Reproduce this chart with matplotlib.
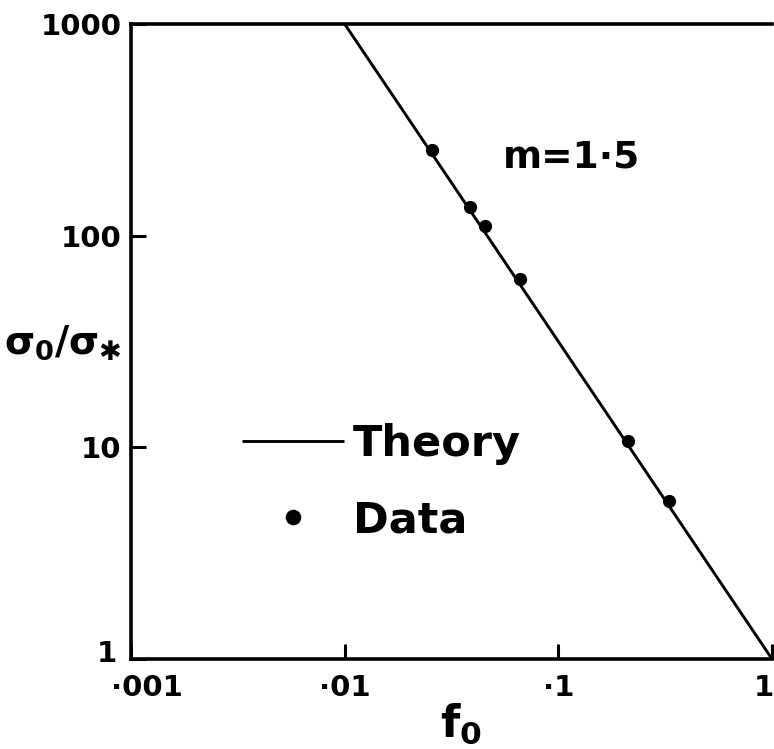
import matplotlib
matplotlib.use("Agg")
import matplotlib.pyplot as plt
from matplotlib.ticker import FixedLocator, FixedFormatter, NullLocator
from matplotlib.transforms import ScaledTranslation

plt.rcParams['font.family'] = ['DejaVu Sans']
plt.rcParams['font.weight'] = 'bold'
plt.rcParams['mathtext.fontset'] = 'custom'
plt.rcParams['mathtext.rm'] = 'DejaVu Sans:bold'
plt.rcParams['mathtext.it'] = 'DejaVu Sans:bold'
plt.rcParams['mathtext.bf'] = 'DejaVu Sans:bold'

# Theory: sigma0/sigma* = f0^(-m), m = 1.5
theory_f0 = [0.01, 1.0]
theory_ratio = [1000.0, 1.0]

# Measured points
data_f0 = [0.0256, 0.0385, 0.0453, 0.0661, 0.213, 0.330]
data_ratio = [254.0, 137.0, 111.0, 62.7, 10.7, 5.55]

x_ticks = [0.001, 0.01, 0.1, 1.0]
x_tick_labels = ['·001', '·01', '·1', '1']
y_ticks = [1, 10, 100, 1000]
y_tick_labels = ['1', '10', '100', '1000']

W, H = 774, 749
DPI = 100
fig = plt.figure(figsize=(W / DPI, H / DPI), dpi=DPI)
ax = fig.add_axes([131 / W, 1 - 659 / H, (772 - 131) / W, (659 - 24) / H])

ax.set_xscale('log')
ax.set_yscale('log')
ax.set_xlim(0.001, 1.0)
ax.set_ylim(1, 1000)

ax.plot(theory_f0, theory_ratio, color='black', lw=2.1, solid_capstyle='butt',
        label='Theory', clip_on=False, zorder=3)
ax.plot(data_f0, data_ratio, linestyle='none', marker='o', ms=8.5,
        color='black', label='Data', zorder=4)

ax.xaxis.set_major_locator(FixedLocator(x_ticks))
ax.xaxis.set_major_formatter(FixedFormatter(x_tick_labels))
ax.yaxis.set_major_locator(FixedLocator(y_ticks))
ax.yaxis.set_major_formatter(FixedFormatter(y_tick_labels))
ax.xaxis.set_minor_locator(NullLocator())
ax.yaxis.set_minor_locator(NullLocator())

ax.tick_params(axis='both', which='major', direction='in', length=11, width=2.2,
               labelsize=21, colors='black')
ax.tick_params(axis='y', pad=7)
ax.tick_params(axis='x', pad=11)

for side in ('left', 'bottom', 'top'):
    ax.spines[side].set_linewidth(2.6)
ax.spines['right'].set_visible(False)

fig.canvas.draw()
xlabs = ax.get_xticklabels()
ylabs = ax.get_yticklabels()
for lab in xlabs + ylabs:
    lab.set_fontweight('bold')


def nudge(label, dx_px, dy_px):
    label.set_transform(label.get_transform() +
                        ScaledTranslation(dx_px / DPI, dy_px / DPI, fig.dpi_scale_trans))


nudge(xlabs[0], 16, 0)
nudge(xlabs[-1], -8, 0)
nudge(ylabs[0], -4, 8)

ax.text((503 - 131) / 641, 1 - (167 - 24) / 635, 'm=1·5', transform=ax.transAxes,
        fontsize=27, fontweight='bold', ha='left', va='baseline')

fig.text(63 / W, 1 - 343 / H, r'$\sigma_0/\sigma_{✱}$', fontsize=28,
         ha='center', va='center')
fig.text(461 / W, 1 - 724 / H, r'$f_0$', fontsize=32, ha='center', va='center')

leg = ax.legend(loc='upper left', bbox_to_anchor=(0.173, 0.371), frameon=False,
                fontsize=31, handlelength=2.37, handletextpad=0.2,
                labelspacing=0.79, borderpad=0, borderaxespad=0, markerscale=1.2)
for t in leg.get_texts():
    t.set_fontweight('bold')

fig.savefig('out.png', dpi=DPI)
